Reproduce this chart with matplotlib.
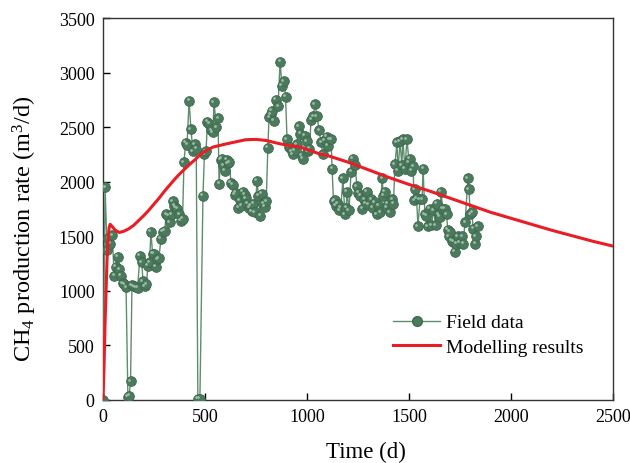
import matplotlib
matplotlib.use("Agg")
import matplotlib.pyplot as plt
import matplotlib.transforms as mtransforms
from matplotlib.lines import Line2D

plt.rcParams["font.family"] = ["Liberation Serif", "DejaVu Serif"]
plt.rcParams["mathtext.fontset"] = "custom"
plt.rcParams["mathtext.rm"] = "Liberation Serif"
plt.rcParams["mathtext.it"] = "Liberation Serif:italic"

# ----- data -----
field_t = [0, 10, 20, 25, 35, 45, 55, 62, 72, 80, 88, 97, 105, 113, 122, 128, 135,
           142, 150, 160, 170, 181, 190, 196, 205, 213, 220, 228, 235, 243, 250, 258,
           266, 274, 284, 294, 302, 310, 319, 328, 336, 343, 350, 357, 365, 374, 382,
           390, 397, 405, 412, 422, 431, 441, 451, 457, 465, 475, 490, 497, 505, 512,
           520, 530, 539, 544, 556, 564, 569, 576, 583, 590, 598, 606, 612, 620, 627,
           637, 645, 652, 662, 670, 678, 686, 694, 700, 708, 716, 722, 730, 737, 745,
           755, 762, 770, 779, 786, 794, 800, 808, 814, 822, 828, 838, 848, 858, 868,
           877, 887, 895, 902, 910, 917, 925, 931, 941, 951, 960, 966, 975, 980, 990,
           998, 1005, 1012, 1020, 1030, 1039, 1049, 1059, 1069, 1078, 1088, 1098, 1103,
           1110, 1118, 1123, 1130, 1137, 1142, 1150, 1158, 1166, 1176, 1186, 1192, 1196,
           1206, 1216, 1225, 1235, 1245, 1252, 1260, 1270, 1280, 1287, 1294, 1304, 1314,
           1323, 1333, 1343, 1353, 1360, 1368, 1375, 1382, 1392, 1397, 1407, 1417, 1424,
           1431, 1441, 1446, 1456, 1465, 1470, 1480, 1490, 1500, 1505, 1512, 1520, 1525,
           1529, 1537, 1544, 1554, 1564, 1569, 1578, 1585, 1593, 1603, 1610, 1620, 1630,
           1637, 1645, 1652, 1657, 1665, 1676, 1684, 1690, 1696, 1701, 1710, 1716, 1725,
           1732, 1740, 1750, 1760, 1765, 1775, 1789, 1794, 1800, 1809, 1814, 1824, 1828,
           1838]
field_q = [0, 1950, 1370, 1480, 1430, 1510, 1140, 1220, 1310, 1200, 1140, 1070, 1060,
           1035, 30, 40, 170, 1050, 1040, 1035, 1030, 1320, 1260, 1090, 1040, 1060, 1230,
           1260, 1540, 1340, 1340, 1220, 1290, 1300, 1475, 1540, 1550, 1700, 1690, 1630,
           1700, 1820, 1780, 1760, 1750, 1700, 1640, 1660, 2180, 2355, 2340, 2740, 2480,
           2280, 2345, 2300, 10, 10, 1870, 2250, 2280, 2550, 2530, 2470, 2455, 2730, 2500,
           2580, 1980, 2200, 2210, 2150, 2100, 2200, 2170, 2180, 1990, 1970, 1880, 1900,
           1760, 1830, 1780, 1910, 1880, 1850, 1800, 1760, 1780, 1730, 1800, 1720, 2010,
           1870, 1690, 1890, 1800, 1770, 1820, 2310, 2590, 2620, 2650, 2560, 2750, 2690,
           3100, 2880, 2920, 2780, 2390, 2320, 2320, 2280, 2250, 2290, 2345, 2510, 2440,
           2240, 2210, 2420, 2370, 2280, 2300, 2570, 2600, 2710, 2600, 2470, 2360, 2250,
           2380, 2410, 2330, 2390, 2390, 2120, 1820, 1830, 1780, 1800, 1740, 1760, 2030,
           1700, 1760, 1910, 1740, 2090, 2210, 2150, 1960, 1900, 1870, 1750, 1840, 1800,
           1910, 1790, 1840, 1760, 1810, 1700, 1780, 1720, 2030, 1870, 1910, 1760, 1800,
           1720, 1840, 1800, 2160, 2360, 2100, 2370, 2150, 2390, 2120, 2390, 2180, 2210,
           2100, 2140, 1830, 1930, 1850, 1590, 1840, 1840, 2120, 1700, 1690, 1590, 1750,
           1600, 1740, 1600, 1800, 1700, 1680, 1910, 1750, 1750, 1700, 1560, 1500, 1540,
           1460, 1450, 1360, 1430, 1500, 1440, 1500, 1430, 1630, 2030, 1930, 1700, 1720,
           1570, 1430, 1500, 1590]

model_t = [0, 5, 10, 15, 20, 25, 30, 35, 45, 60, 80, 100, 125, 150, 175, 200, 225, 250,
           275, 300, 325, 350, 375, 400, 425, 450, 475, 500, 540, 600, 650, 700, 750, 800,
           850, 900, 966, 1000, 1064, 1100, 1200, 1300, 1400, 1500, 1600, 1700, 1800,
           1900, 2000, 2100, 2200, 2300, 2400, 2500]
model_q = [0, 300, 700, 1000, 1300, 1480, 1580, 1610, 1590, 1555, 1535, 1545, 1567,
           1600, 1645, 1690, 1740, 1795, 1850, 1910, 1965, 2020, 2070, 2115, 2160, 2200,
           2245, 2280, 2318, 2345, 2365, 2385, 2388, 2378, 2355, 2335, 2318, 2295, 2254,
           2240, 2180, 2110, 2040, 1975, 1915, 1850, 1785, 1720, 1665, 1610, 1555, 1505,
           1455, 1410]

green = "#4b7a5c"
line_green = "#5e8d6d"
red = "#ea1c24"

fig = plt.figure(figsize=(6.3, 4.64), dpi=100)
ax = fig.add_axes([0.1635, 0.1358, 0.8095, 0.8232])

ax.plot(field_t, field_q, "-", color=line_green, lw=1.0, marker="o", ms=7,
        mfc=green, mec="#3e6a4f", mew=0.6, zorder=3)
# small highlight on each ball
hl = mtransforms.offset_copy(ax.transData, fig=fig, x=-1.1, y=1.1, units="points")
ax.plot(field_t, field_q, "o", ms=2.0, color="#9dbba7", mew=0, transform=hl, zorder=4)

ax.plot(model_t, model_q, "-", color=red, lw=2.2, zorder=5)

ax.set_xlim(0, 2500)
ax.set_ylim(0, 3500)
ax.set_xticks([0, 500, 1000, 1500, 2000, 2500])
ax.set_yticks([0, 500, 1000, 1500, 2000, 2500, 3000, 3500])
ax.tick_params(direction="in", length=5, width=1, labelsize=13, pad=6,
               top=False, right=False)
for s in ax.spines.values():
    s.set_linewidth(1.0)
    s.set_color("#333333")

ax.set_xlabel("Time (d)", fontsize=16.5)
ax.set_ylabel("CH$_4$ production rate (m$^3$/d)", fontsize=17.5)
ax.xaxis.set_label_coords(0.515, -0.108)
ax.yaxis.set_label_coords(-0.125, 0.45)

handles = [
    Line2D([], [], color=line_green, lw=1.0, marker="o", ms=7, mfc=green, mec="#3e6a4f"),
    Line2D([], [], color=red, lw=2.2),
]
ax.legend(handles, ["Field data", "Modelling results"], loc="lower left",
          bbox_to_anchor=(0.535, 0.07), frameon=False, fontsize=14,
          handlelength=2.4, handletextpad=0.3, labelspacing=0.35)

fig.savefig("out.png", dpi=100)
